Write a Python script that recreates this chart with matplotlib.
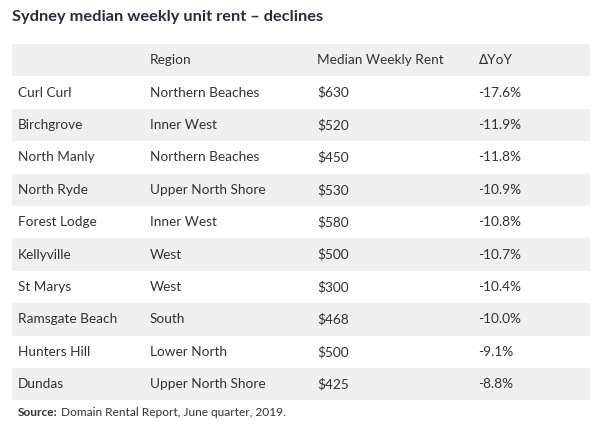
import matplotlib
matplotlib.use("Agg")
import matplotlib.pyplot as plt
from matplotlib.patches import Rectangle

plt.rcParams['font.family'] = ['Lato', 'DejaVu Sans']

title = "Sydney median weekly unit rent – declines"
headers = ["", "Region", "Median Weekly Rent", "\u2206YoY"]
suburbs = ["Curl Curl", "Birchgrove", "North Manly", "North Ryde", "Forest Lodge",
           "Kellyville", "St Marys", "Ramsgate Beach", "Hunters Hill", "Dundas"]
regions = ["Northern Beaches", "Inner West", "Northern Beaches", "Upper North Shore",
           "Inner West", "West", "West", "South", "Lower North", "Upper North Shore"]
rents = [630, 520, 450, 530, 580, 500, 300, 468, 500, 425]
yoy = [-17.6, -11.9, -11.8, -10.9, -10.8, -10.7, -10.4, -10.0, -9.1, -8.8]

text_col = "#2d323a"
title_col = "#262d3b"
shade = "#eef1f4"

fig = plt.figure(figsize=(6, 4.32), dpi=100)
ax = fig.add_axes([0, 0, 1, 1])
ax.set_xlim(0, 600)
ax.set_ylim(432, 0)
ax.axis("off")

col_x = [18, 150, 317, 478]
left, right = 12, 590
top, row_h = 44, 32.4

ax.text(12, 17, title, fontsize=11.8, fontweight="bold", color=title_col, va="center")

rows = [headers] + [[s, r, f"${v}", f"{d:.1f}%"] for s, r, v, d in zip(suburbs, regions, rents, yoy)]
for i, row in enumerate(rows):
    y0 = top + i * row_h
    if i % 2 == 0:
        ax.add_patch(Rectangle((left, y0), right - left, row_h, color=shade, lw=0))
    for x, t in zip(col_x, row):
        ax.text(x, y0 + row_h / 2, t, fontsize=9.8, color=text_col, va="center")

ax.text(18, 413, "Source:", fontsize=8.6, fontweight="bold", color=text_col, va="center")
ax.text(61, 413, "Domain Rental Report, June quarter, 2019.", fontsize=8.6, color=text_col, va="center")

fig.savefig("out.png", dpi=100)
